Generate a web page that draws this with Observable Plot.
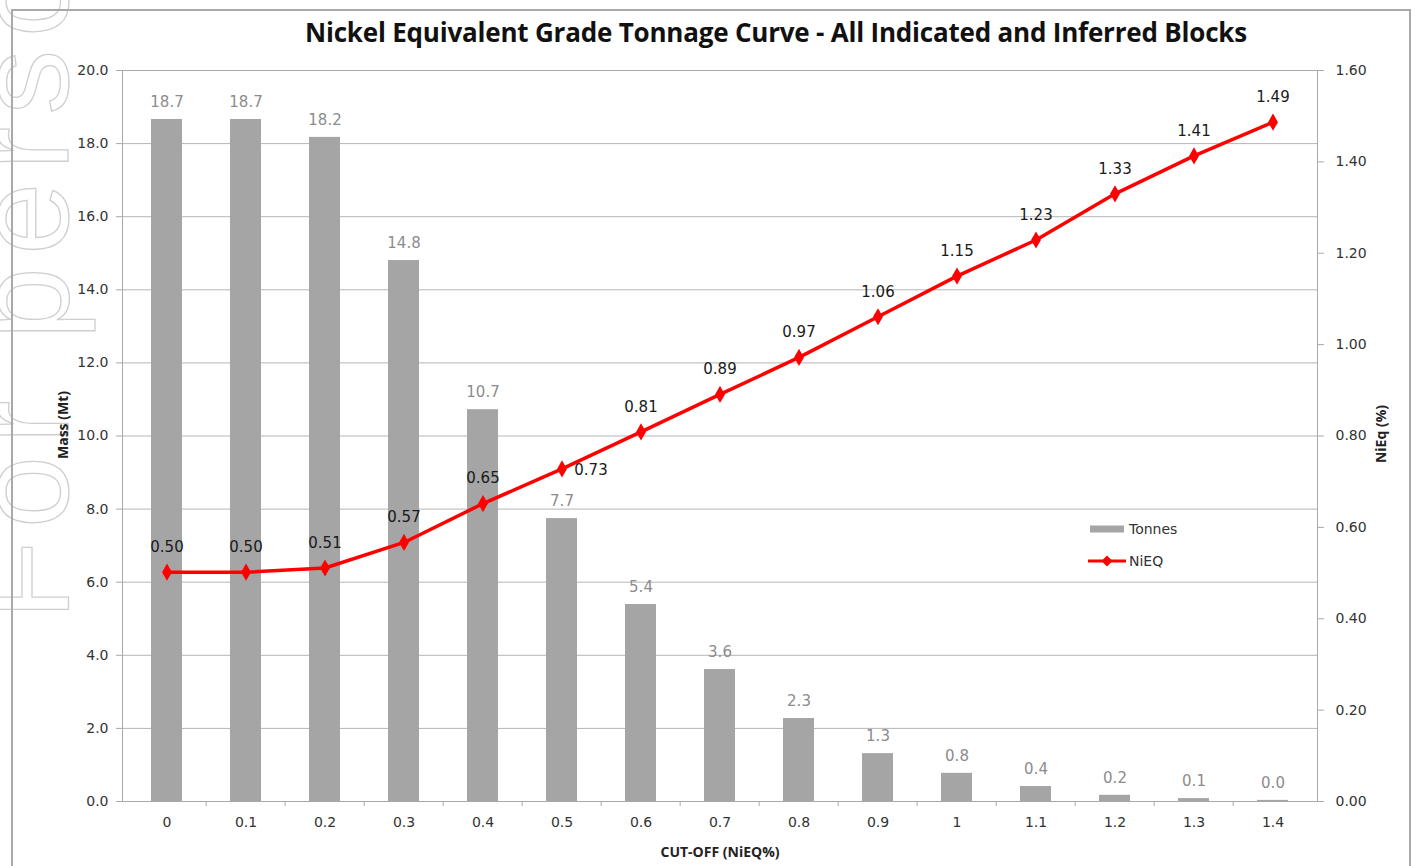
<!DOCTYPE html>
<html>
<head>
<meta charset="utf-8">
<script src="https://cdn.jsdelivr.net/npm/d3@7"></script>
<script src="https://cdn.jsdelivr.net/npm/@observablehq/plot@0.6"></script>
<style>
  html, body { margin: 0; padding: 0; background: #fff; }
  body { width: 1418px; height: 866px; overflow: hidden; position: relative; font-family: "DejaVu Sans", sans-serif; }
  #watermark { position: absolute; left: 0; top: 0; z-index: 0; }
  #frame { position: absolute; left: 11px; top: 9px; width: 1400px; height: 900px; border: 2px solid #a9a9a9; box-sizing: border-box; z-index: 1; }
  #title { position: absolute; left: 276px; top: 14px; width: 1000px; text-align: center; font-family: "Open Sans", sans-serif; font-weight: 700; font-size: 26px; line-height: 36px; color: #111; z-index: 2; letter-spacing: -0.2px; }
  #chart { position: absolute; left: 0; top: 50px; z-index: 2; }
  .axt { position: absolute; font-family: "Open Sans", sans-serif; font-weight: 700; font-size: 14px; color: #222; white-space: nowrap; z-index: 3; }
  #legend { position: absolute; left: 1088px; top: 518px; z-index: 3; font-family: "DejaVu Sans", sans-serif; font-size: 14px; color: #333; }
  .lg { display: flex; align-items: center; height: 22px; margin-bottom: 10px; }
  .lg svg { margin-right: 3px; }
</style>
</head>
<body>
<svg id="watermark" width="1418" height="866">
  <text transform="translate(68,620) rotate(-90)" font-family="Liberation Sans, sans-serif" font-size="130" fill="none" stroke="#cfcfcf" stroke-width="1.3" textLength="655" lengthAdjust="spacing">For perso</text>
</svg>
<div id="frame"></div>
<div id="title">Nickel Equivalent Grade Tonnage Curve - All Indicated and Inferred Blocks</div>
<div id="chart"></div>
<div class="axt" id="ylab" style="left:62px; top:425px; transform: translate(-50%,-50%) rotate(-90deg);">Mass (Mt)</div>
<div class="axt" id="y2lab" style="left:1380px; top:434px; transform: translate(-50%,-50%) rotate(-90deg);">NiEq (%)</div>
<div class="axt" id="xlab" style="left:720px; top:851px; transform: translate(-50%,-50%);">CUT-OFF (NiEQ%)</div>
<div id="legend">
  <div class="lg"><svg width="38" height="10"><rect x="2" y="1.5" width="34" height="7" fill="#a5a5a5"></rect></svg>Tonnes</div>
  <div class="lg"><svg width="38" height="12"><line x1="0" y1="6" x2="38" y2="6" stroke="#ff0000" stroke-width="3"></line><path d="M19,0.5 L24.5,6 L19,11.5 L13.5,6 Z" fill="#ff0000"></path></svg>NiEQ</div>
</div>
<script>
// ---- data ----
const cutoffs = ["0", "0.1", "0.2", "0.3", "0.4", "0.5", "0.6", "0.7", "0.8", "0.9", "1", "1.1", "1.2", "1.3", "1.4"];
const tonnes = [18.66, 18.66, 18.17, 14.80, 10.72, 7.74, 5.39, 3.61, 2.27, 1.31, 0.77, 0.41, 0.17, 0.08, 0.03];
const nieq = [0.502, 0.502, 0.511, 0.567, 0.652, 0.728, 0.809, 0.891, 0.972, 1.061, 1.150, 1.229, 1.330, 1.413, 1.487];
const massTicks = [0, 2, 4, 6, 8, 10, 12, 14, 16, 18, 20];
const gradeTicks = [0, 0.2, 0.4, 0.6, 0.8, 1.0, 1.2, 1.4, 1.6];
const massMax = 20, gradeMax = 1.6;
const rightLabelCut = "0.5"; // label placed to the right of its point

// ---- layout ----
const W = 1418, H = 816, mL = 122, mR = 101, mT = 20, mB = 65;
const k = massMax / gradeMax;
const step = (W - mL - mR) / cutoffs.length;
const data = cutoffs.map((c, i) => ({cut: c, tonnes: tonnes[i], nieq: nieq[i], g: nieq[i] * k}));
const f1 = d3.format(".1f"), f2 = d3.format(".2f");

const chart = Plot.plot({
  width: W, height: H,
  marginLeft: mL, marginRight: mR, marginTop: mT, marginBottom: mB,
  style: {fontFamily: "DejaVu Sans, sans-serif", fontSize: "14px", background: "transparent", overflow: "visible"},
  x: {type: "band", domain: cutoffs, paddingInner: 0.61, paddingOuter: 0.305, label: null},
  y: {domain: [0, massMax], label: null},
  marks: [
    Plot.gridY(massTicks, {stroke: "#b5b5b5", strokeOpacity: 1}),
    Plot.barY(data, {x: "cut", y: "tonnes", fill: "#a5a5a5"}),
    Plot.frame({stroke: "#a9a9a9"}),
    Plot.axisY(massTicks, {anchor: "left", tickFormat: f1, tickSize: 6, tickPadding: 8, stroke: "#a9a9a9", fill: "#333", fontSize: 14, label: null}),
    Plot.axisY(gradeTicks.map(g => g * k), {anchor: "right", tickFormat: d => f2(d / k), tickSize: 6, tickPadding: 12, stroke: "#a9a9a9", fill: "#333", fontSize: 14, label: null}),
    Plot.axisX({tickSize: 0, tickPadding: 16, fill: "#333", fontSize: 14, label: null}),
    Plot.axisX(cutoffs.slice(1), {tickSize: 5, tickFormat: () => "", dx: -step / 2, stroke: "#a9a9a9", label: null}),
    Plot.text(data, {x: "cut", y: "tonnes", text: d => f1(d.tonnes), dy: -17, fill: "#8c8c8c", fontSize: 15}),
    Plot.line(data, {x: "cut", y: "g", stroke: "#ff0000", strokeWidth: 3.5}),
    Plot.dot(data, {x: "cut", y: "g", symbol: "diamond", r: 5.2, fill: "#ff0000", stroke: null}),
    Plot.text(data, {filter: d => d.cut !== rightLabelCut, x: "cut", y: "g", text: d => f2(d.nieq), dy: -25, fill: "#1a1a1a", fontSize: 15}),
    Plot.text(data, {filter: d => d.cut === rightLabelCut, x: "cut", y: "g", text: d => f2(d.nieq), dx: 29, dy: 1, fill: "#1a1a1a", fontSize: 15})
  ]
});
document.getElementById("chart").appendChild(chart);
</script>
</body>
</html>
